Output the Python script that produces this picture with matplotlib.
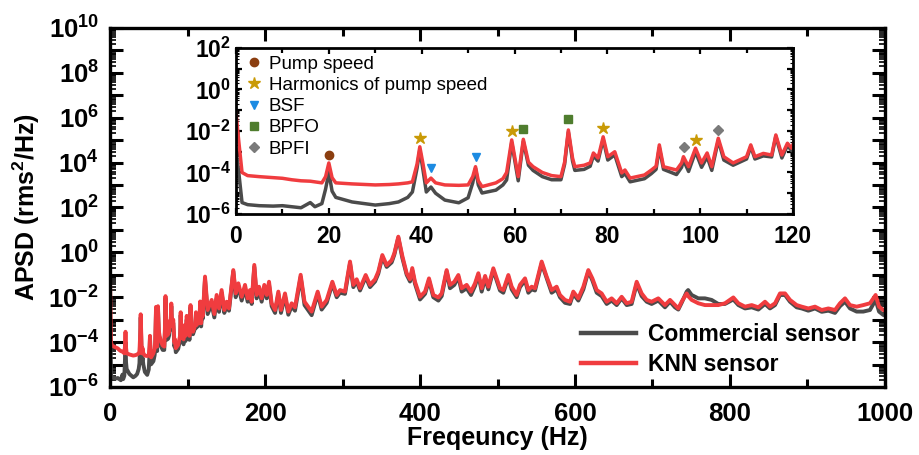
import numpy as np
import matplotlib
matplotlib.use("Agg")
import matplotlib.pyplot as plt
from matplotlib.ticker import FixedLocator, FuncFormatter, LogLocator, NullFormatter, MultipleLocator

plt.rcParams['font.family'] = ['Liberation Sans', 'DejaVu Sans']
plt.rcParams['mathtext.fontset'] = 'custom'
plt.rcParams['mathtext.rm'] = 'Liberation Sans:bold'
plt.rcParams['mathtext.bf'] = 'Liberation Sans:bold'
plt.rcParams['mathtext.it'] = 'Liberation Sans:bold'
plt.rcParams['mathtext.default'] = 'rm'

# ---------------- data (frequency in Hz, APSD as log10 of rms^2/Hz) ----------------
freq_hz = [
    0.0, 0.6, 1.3, 2.5, 5, 8, 10, 12, 14, 16, 17, 18.5, 19.3, 20.0, 20.7, 21.5, 25, 30, 33, 35,
    37, 38, 39, 39.6, 40.3, 41, 42, 43, 45, 48, 50, 51.0, 51.6, 52.2, 53, 56, 57.5, 58.3, 59.4, 60.8,
    61.9, 63, 64, 66, 68, 70, 70.8, 71.6, 72.5, 73, 75, 76.3, 77, 78, 79.1, 80.1, 81.6, 83.1, 83.8, 84.9,
    88, 89.5, 90.5, 91.2, 92.1, 94.9, 96.0, 96.4, 97.5, 99.0, 100.3, 101.5, 102.5, 103.9, 105.1, 107.1, 110.0, 110.9, 111.8, 113.6,
    115.4, 116.3, 117.6, 118.8, 119.7, 122.6, 126, 131.2, 134.6, 137.6, 140.7, 144, 147.5, 150.5, 153.5, 159.1, 162.2, 165.6, 169.9, 174.2,
    177.6, 180.6, 182.8, 186.2, 189.2, 192.3, 195.7, 199.1, 202.2, 205.2, 208.6, 213, 217.2, 220.6, 225.8, 230.1, 234.4, 238.7, 246, 251,
    260.2, 268, 273.1, 279.6, 286.9, 292.5, 296.8, 303.2, 309.7, 314, 318.3, 322.6, 329.9, 335.5, 342, 346.2, 351.4, 357, 363.4, 366.9,
    372, 377.2, 382.8, 387.1, 390, 393.5, 400, 406.5, 411.6, 417.2, 423.7, 428, 434.4, 438.7, 444.3, 449.5, 453.8, 460.2, 465.8, 471,
    475.3, 479.6, 484, 488.2, 494.6, 498.9, 503.2, 507.5, 514, 518.3, 524.7, 529, 535.5, 539.8, 544.1, 548.4, 557, 563.4, 569.9, 576.3,
    580.6, 587.1, 593.5, 597.8, 604.3, 610.8, 617.2, 622.4, 628, 634.4, 640.9, 647.3, 653.8, 660.2, 666.7, 673.1, 679.6, 686, 692.5, 698.9,
    707.5, 716.1, 722.6, 729, 733.3, 737.6, 744.1, 746, 750.5, 759.1, 767.7, 776.3, 784.9, 793.5, 804.3, 810.8, 819.4, 828, 836.6, 845.2,
    851.6, 858.1, 864.5, 871, 877.4, 886, 892.5, 901.1, 909.7, 918.3, 926.9, 935.5, 941.9, 948.4, 954.8, 963.4, 972, 980.6, 987.9, 992.3,
    997.8, 1000,
]

knn_log10 = [
    -1.1, -2.5, -4.0, -4.15, -4.2, -4.25, -4.28, -4.35, -4.4, -4.42, -4.45, -4.5, -4.2, -3.54, -4.25, -4.5, -4.55, -4.6, -4.58, -4.55,
    -4.5, -4.45, -3.6, -2.76, -3.6, -4.5, -4.27, -4.5, -4.6, -4.62, -4.6, -4.2, -3.72, -4.4, -4.68, -4.5, -4.3, -4.0, -2.43, -4.2,
    -2.4, -3.5, -3.72, -4.0, -4.15, -4.2, -3.5, -1.95, -3.3, -3.72, -3.65, -3.54, -3.06, -3.3, -2.28, -3.24, -3.0, -4.02, -3.88, -4.27,
    -4.12, -3.88, -3.7, -2.67, -3.72, -3.88, -3.54, -3.24, -3.72, -2.83, -3.54, -3.06, -3.72, -2.35, -3.24, -3.54, -3.24, -2.67, -3.24, -3.08,
    -3.16, -2.19, -3.16, -2.59, -2.83, -1.08, -2.57, -2.12, -2.75, -1.9, -2.5, -1.68, -2.57, -2.2, -2.5, -0.79, -1.83, -1.38, -1.98, -1.45,
    -2.05, -1.68, -2.2, -0.56, -1.9, -1.53, -2.05, -1.45, -1.9, -1.31, -2.27, -2.57, -1.75, -2.57, -1.83, -2.64, -2.27, -2.45, -1.0, -2.2,
    -2.64, -1.75, -2.42, -2.12, -1.31, -1.9, -1.68, -1.75, -0.41, -1.45, -1.2, -1.6, -1.01, -1.45, -1.2, -0.86, -0.12, -0.57, -0.35, -0.04,
    0.70, -0.16, -0.93, -1.2, -0.7, -1.31, -1.98, -1.75, -1.16, -1.9, -2.01, -1.83, -0.79, -1.45, -1.31, -1.01, -1.6, -1.45, -1.75, -1.38,
    -0.93, -1.6, -1.05, -1.53, -0.71, -1.16, -1.6, -1.68, -1.01, -1.53, -1.9, -1.45, -1.16, -1.68, -1.53, -1.6, -0.41, -1.08, -1.68, -1.53,
    -1.9, -2.12, -2.2, -1.75, -2.05, -1.53, -0.79, -1.16, -1.68, -1.83, -2.2, -2.05, -2.27, -1.98, -2.27, -2.2, -1.31, -1.83, -2.12, -2.2,
    -2.05, -2.35, -2.12, -2.35, -2.5, -2.2, -1.83, -1.95, -2.12, -2.27, -2.35, -2.35, -2.35, -2.27, -2.01, -2.27, -2.42, -2.35, -2.45, -2.2,
    -2.42, -2.27, -1.83, -1.83, -2.12, -2.35, -2.42, -2.5, -2.42, -2.57, -2.5, -2.57, -2.27, -2.05, -2.35, -2.42, -2.35, -2.27, -1.9, -2.42,
    -2.57, -2.6,
]

commercial_log10 = [
    -2.9, -4.0, -5.45, -5.55, -5.6, -5.62, -5.6, -5.65, -5.7, -5.45, -5.65, -5.5, -4.8, -4.0, -4.9, -5.2, -5.42, -5.57, -5.5, -5.42,
    -5.2, -4.94, -3.8, -2.9, -3.9, -4.94, -4.7, -5.0, -5.33, -5.46, -5.22, -4.5, -3.8, -4.6, -4.99, -4.85, -4.6, -4.36, -2.55, -4.4,
    -2.5, -3.65, -3.9, -4.2, -4.35, -4.35, -3.6, -2.05, -3.45, -3.9, -3.85, -3.7, -3.2, -3.45, -2.4, -3.4, -3.15, -4.2, -4.05, -4.45,
    -4.3, -4.05, -3.85, -2.8, -3.85, -4.1, -3.75, -3.4, -3.95, -3.0, -3.75, -3.25, -3.9, -2.45, -3.4, -3.65, -3.35, -2.75, -3.35, -3.2,
    -3.25, -2.25, -3.3, -2.7, -2.95, -1.2, -2.75, -2.3, -2.9, -2.05, -2.65, -1.8, -2.7, -2.35, -2.6, -0.85, -2.0, -1.5, -2.15, -1.6,
    -2.2, -1.8, -2.3, -0.65, -2.05, -1.65, -2.2, -1.55, -2.05, -1.45, -2.4, -2.7, -1.85, -2.7, -1.95, -2.78, -2.4, -2.6, -1.1, -2.35,
    -2.8, -1.85, -2.55, -2.25, -1.4, -2.0, -1.8, -1.85, -0.5, -1.55, -1.3, -1.7, -1.1, -1.55, -1.3, -0.95, -0.2, -0.65, -0.45, -0.1,
    0.65, -0.25, -1.0, -1.3, -0.8, -1.4, -2.1, -1.85, -1.25, -2.0, -2.15, -1.95, -0.85, -1.6, -1.45, -1.1, -1.75, -1.6, -1.9, -1.5,
    -1.0, -1.75, -1.15, -1.65, -0.8, -1.25, -1.7, -1.8, -1.1, -1.65, -2.0, -1.55, -1.25, -1.8, -1.65, -1.7, -0.5, -1.15, -1.8, -1.65,
    -2.0, -2.25, -2.3, -1.85, -2.15, -1.65, -0.85, -1.25, -1.8, -1.95, -2.3, -2.15, -2.35, -2.05, -2.35, -2.3, -1.4, -1.95, -2.2, -2.3,
    -2.15, -2.45, -2.2, -2.45, -2.55, -2.25, -1.75, -1.68, -1.9, -2.05, -2.05, -2.12, -2.3, -2.3, -2.1, -2.35, -2.5, -2.45, -2.55, -2.3,
    -2.5, -2.35, -1.9, -1.9, -2.2, -2.45, -2.5, -2.6, -2.5, -2.65, -2.6, -2.7, -2.4, -2.2, -2.5, -2.64, -2.64, -2.57, -2.12, -2.64,
    -2.79, -2.8,
]

# fault-frequency markers in the inset: (frequency, log10 APSD)
pump_f, pump_v = [20.0], [-3.16]
harm_f, harm_v = [39.6, 59.4, 79.1, 99.0], [-2.32, -1.98, -1.87, -2.42]
bsf_f, bsf_v = [42.0, 51.6], [-3.78, -3.24]
bpfo_f, bpfo_v = [61.9, 71.6], [-1.91, -1.42]
bpfi_f, bpfi_v = [96.5, 103.9], [-2.76, -1.95]

series_names = ["Commercial sensor", "KNN sensor"]
marker_names = ["Pump speed", "Harmonics of pump speed", "BSF", "BPFO", "BPFI"]

# ---------------- styling ----------------
RED = "#F03C3F"
GREY = "#4B4B4B"
freq = np.array(freq_hz)
knn = 10.0 ** np.array(knn_log10)
com = 10.0 ** np.array(commercial_log10)

fig = plt.figure(figsize=(9.19, 4.55), dpi=100)
ax = fig.add_axes([0.1197, 0.1495, 0.8433, 0.789])

ax.plot(freq, com, color=GREY, lw=2.8, label=series_names[0], solid_joinstyle='round')
ax.plot(freq, knn, color=RED, lw=2.8, label=series_names[1], solid_joinstyle='round')
ax.set_yscale('log')
ax.set_xlim(0, 1000)
ax.set_ylim(1e-6, 1e10)


def sci_even(v, pos):
    e = int(round(np.log10(v)))
    if e % 2:
        return ""
    return r"10$^{%d}$" % e


ax.yaxis.set_major_locator(FixedLocator([10.0 ** e for e in range(-6, 11)]))
ax.yaxis.set_major_formatter(FuncFormatter(sci_even))
ax.yaxis.set_minor_locator(LogLocator(base=10, subs=np.arange(2, 10), numticks=40))
ax.yaxis.set_minor_formatter(NullFormatter())
ax.xaxis.set_major_locator(MultipleLocator(200))
ax.xaxis.set_minor_locator(MultipleLocator(100))
ax.tick_params(which='major', direction='in', length=9.5, width=2.2, top=True, right=True,
               labelsize=18.5, pad=8)
ax.tick_params(axis='x', which='major', pad=11)
ax.tick_params(which='minor', direction='in', length=4, width=1.2, top=True, right=True)
ax.tick_params(axis='x', which='minor', length=5.5, width=2.2)
for lab in ax.get_xticklabels() + ax.get_yticklabels():
    lab.set_fontweight('bold')
for s in ax.spines.values():
    s.set_linewidth(2.4)
ax.set_xlabel("Freqeuncy (Hz)", fontsize=18, fontweight='bold', labelpad=0)
ax.set_ylabel("APSD (rms$^2$/Hz)", fontsize=18, fontweight='bold', labelpad=4)

leg = ax.legend(loc='upper left', bbox_to_anchor=(0.608, 0.178), frameon=False,
                prop={'weight': 'bold', 'size': 16.5}, handlelength=2.4, handletextpad=0.5,
                labelspacing=0.3, borderpad=0, borderaxespad=0)
for line in leg.get_lines():
    line.set_linewidth(3.2)

# ---------------- inset ----------------
ins = fig.add_axes([0.2568, 0.5297, 0.6061, 0.3648])
ins.plot(freq, com, color=GREY, lw=2.5, solid_joinstyle='round')
ins.plot(freq, knn, color=RED, lw=2.5, solid_joinstyle='round')
ins.set_yscale('log')
ins.set_xlim(0, 120)
ins.set_ylim(1e-6, 1e2)
ms = 6
ins.plot(pump_f, 10.0 ** np.array(pump_v), 'o', color="#8B3E10", ms=ms, ls='none', label=marker_names[0])
ins.plot(harm_f, 10.0 ** np.array(harm_v), '*', color="#C99A06", ms=ms + 3, ls='none', label=marker_names[1])
ins.plot(bsf_f, 10.0 ** np.array(bsf_v), 'v', color="#1C8BE2", ms=ms, ls='none', label=marker_names[2])
ins.plot(bpfo_f, 10.0 ** np.array(bpfo_v), 's', color="#4F7D2E", ms=ms, ls='none', label=marker_names[3])
ins.plot(bpfi_f, 10.0 ** np.array(bpfi_v), 'D', color="#7A7A7A", ms=ms - 0.8, ls='none', label=marker_names[4])

ins.yaxis.set_major_locator(FixedLocator([10.0 ** e for e in range(-6, 3)]))
ins.yaxis.set_major_formatter(FuncFormatter(sci_even))
ins.yaxis.set_minor_locator(LogLocator(base=10, subs=np.arange(2, 10), numticks=40))
ins.yaxis.set_minor_formatter(NullFormatter())
ins.xaxis.set_major_locator(MultipleLocator(20))
ins.xaxis.set_minor_locator(MultipleLocator(10))
ins.tick_params(which='major', direction='in', length=4.5, width=1.6, top=True, right=True,
                labelsize=16.5, pad=4)
ins.tick_params(axis='x', which='major', pad=8)
ins.tick_params(which='minor', direction='in', length=2, width=0.8, top=True, right=True)
ins.tick_params(axis='x', which='minor', length=3.5, width=1.6)
for lab in ins.get_xticklabels() + ins.get_yticklabels():
    lab.set_fontweight('bold')
for s in ins.spines.values():
    s.set_linewidth(2.0)

ins.legend(loc='upper left', bbox_to_anchor=(0.02, 0.955), frameon=False,
           prop={'size': 13.5}, handlelength=0.7, handletextpad=0.45,
           labelspacing=0.22, borderpad=0, borderaxespad=0)

fig.savefig("out.png", dpi=100)
